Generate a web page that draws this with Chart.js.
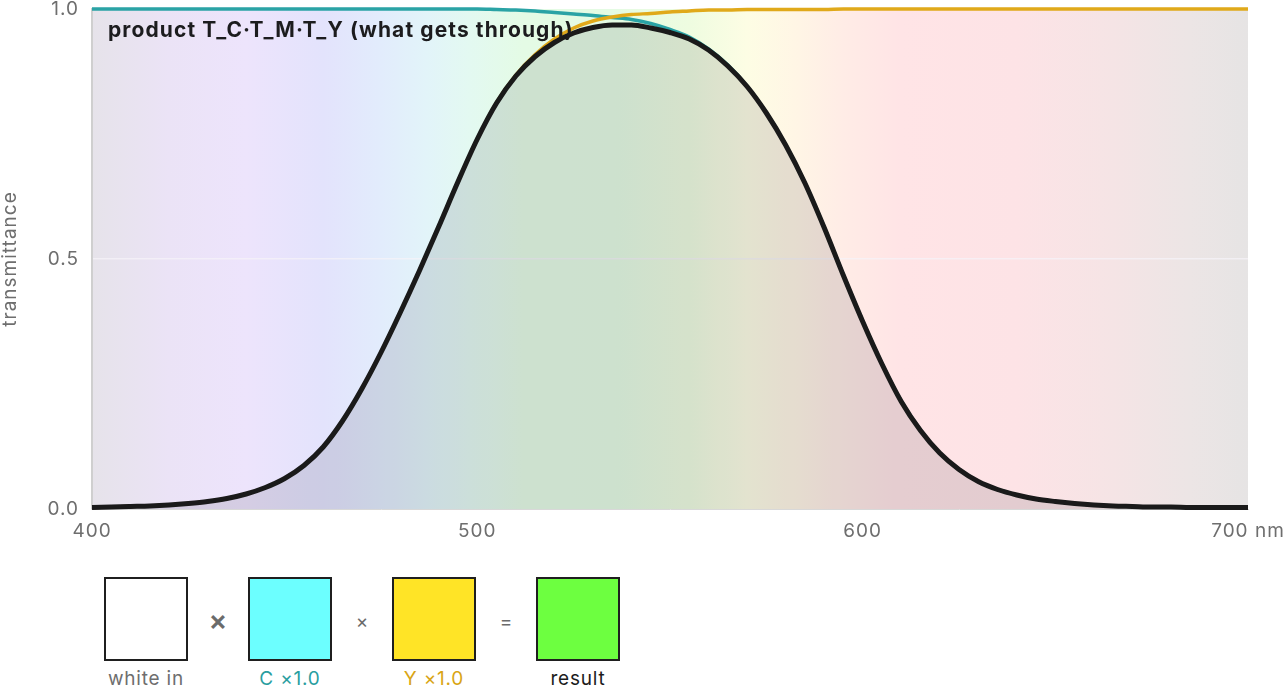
<!DOCTYPE html>
<html>
<head>
<meta charset="utf-8">
<title>Transmittance product</title>
<script src="https://cdn.jsdelivr.net/npm/chart.js@4/dist/chart.umd.min.js"></script>
<style>
    html, body {
        margin: 0;
        padding: 0;
        background: #ffffff;
        font-family: Inter, "Noto Sans", sans-serif;
    }
    .chart-wrap {
        position: absolute;
        left: 0;
        top: 0;
        width: 1283px;
        height: 548px;
    }
    .swatch-row {
        position: absolute;
        left: 0;
        top: 577px;
        width: 700px;
        height: 111px;
    }
    .swatch {
        position: absolute;
        top: 0;
        width: 80px;
        height: 80px;
        border: 2px solid #1f1f1f;
    }
    .swatch-label {
        position: absolute;
        top: 91px;
        width: 160px;
        margin-left: -80px;
        text-align: center;
        font-size: 19px;
        letter-spacing: 0.8px;
        line-height: 22px;
    }
    .op {
        position: absolute;
        width: 40px;
        margin-left: -20px;
        text-align: center;
        color: #6b6b6b;
    }
</style>
</head>
<body>
<div class="chart-wrap"><canvas id="transmit-chart"></canvas></div>
<div class="swatch-row" id="swatch-row"></div>
<script>
// wavelength grid (nm) and the three curves
var wavelengths = [
    400, 405, 410, 415, 420, 425, 430, 435, 440, 445,
    450, 455, 460, 465, 470, 475, 480, 485, 490, 495,
    500, 505, 510, 515, 520, 525, 530, 535, 540, 545,
    550, 555, 560, 565, 570, 575, 580, 585, 590, 595,
    600, 605, 610, 615, 620, 625, 630, 635, 640, 645,
    650, 655, 660, 665, 670, 675, 680, 685, 690, 695, 700
];

var cyanT = [
    1.0, 1.0, 1.0, 1.0, 1.0, 1.0, 1.0, 1.0, 1.0, 1.0,
    1.0, 1.0, 1.0, 1.0, 1.0, 1.0, 1.0, 1.0, 1.0, 1.0,
    1.0, 0.999, 0.998, 0.996, 0.993, 0.99, 0.987, 0.983, 0.979, 0.971,
    0.959, 0.944, 0.92, 0.888, 0.846, 0.793, 0.729, 0.653, 0.564, 0.468,
    0.376, 0.291, 0.216, 0.158, 0.112, 0.079, 0.055, 0.039, 0.028, 0.02,
    0.015, 0.011, 0.008, 0.006, 0.005, 0.004, 0.004, 0.003, 0.003, 0.003, 0.003
];

var yellowT = [
    0.003, 0.004, 0.005, 0.006, 0.008, 0.011, 0.015, 0.021, 0.03, 0.043,
    0.061, 0.087, 0.124, 0.176, 0.24, 0.313, 0.393, 0.477, 0.565, 0.655,
    0.74, 0.813, 0.868, 0.909, 0.94, 0.962, 0.976, 0.984, 0.989, 0.991,
    0.994, 0.996, 0.998, 0.998, 0.999, 0.999, 0.999, 0.999, 0.999, 1.0,
    1.0, 1.0, 1.0, 1.0, 1.0, 1.0, 1.0, 1.0, 1.0, 1.0,
    1.0, 1.0, 1.0, 1.0, 1.0, 1.0, 1.0, 1.0, 1.0, 1.0, 1.0
];

var productT = [
    0.003, 0.004, 0.005, 0.006, 0.008, 0.011, 0.015, 0.021, 0.03, 0.043,
    0.061, 0.087, 0.124, 0.176, 0.24, 0.313, 0.393, 0.477, 0.565, 0.655,
    0.74, 0.812, 0.866, 0.905, 0.933, 0.952, 0.963, 0.968, 0.968, 0.962,
    0.953, 0.94, 0.918, 0.886, 0.845, 0.792, 0.728, 0.652, 0.563, 0.467,
    0.375, 0.29, 0.215, 0.157, 0.112, 0.079, 0.055, 0.039, 0.028, 0.02,
    0.015, 0.011, 0.008, 0.006, 0.005, 0.004, 0.004, 0.003, 0.003, 0.003, 0.003
];

var xTicks = [400, 500, 600, 700];
var yTicks = [0, 0.5, 1];

// pale spectrum behind the plot
var backdropNm = [400, 420, 440, 460, 475, 487, 498, 512, 535, 555, 570, 582, 595, 610, 640, 665, 685, 700];
var backdropColors = [
    '#e6e3ea', '#ebe3f6', '#ede4fc', '#e3e3fc', '#e2ecfc', '#e2f4f9', '#e3f9f1', '#e4fbe5',
    '#e4fbe3', '#eefce0', '#fdfde4', '#fff6e5', '#ffece6', '#ffe4e6', '#fde3e6', '#f5e4e5',
    '#ece5e5', '#e6e4e4'
];

var swatches = [
    { label: 'white in', color: '#ffffff', text: '#6e6e6e' },
    { label: 'C \u00d71.0', color: '#6cffff', text: '#2a9ea0' },
    { label: 'Y \u00d71.0', color: '#ffe426', text: '#d9a514' },
    { label: 'result', color: '#6dff40', text: '#1c1c1c' }
];
var operators = ['\u00d7', '\u00d7', '='];

(function (window, document) {
    'use strict';

    var FONT = 'Inter, "Noto Sans", sans-serif';
    var SPACING = '1px';

    function points(values) {
        return wavelengths.map(function (nm, i) {
            return { x: nm, y: values[i] };
        });
    }

    // the reference text runs a little wider than Inter, so track it out
    var textTracking = {
        id: 'textTracking',
        beforeInit: function (chart) {
            chart.ctx.letterSpacing = SPACING;
        },
        beforeLayout: function (chart) {
            chart.ctx.letterSpacing = SPACING;
        },
        beforeDraw: function (chart) {
            chart.ctx.letterSpacing = SPACING;
        }
    };

    var spectrumBackdrop = {
        id: 'spectrumBackdrop',
        beforeDraw: function (chart) {
            var area = chart.chartArea;
            var ctx = chart.ctx;
            var xScale = chart.scales.x;
            var grad = ctx.createLinearGradient(area.left, 0, area.right, 0);

            backdropNm.forEach(function (nm, i) {
                var t = (xScale.getPixelForValue(nm) - area.left) / area.width;
                grad.addColorStop(Math.min(1, Math.max(0, t)), backdropColors[i]);
            });

            ctx.save();
            ctx.fillStyle = grad;
            ctx.fillRect(area.left, area.top, area.width, area.height);
            ctx.restore();
        }
    };

    var plotTitle = {
        id: 'plotTitle',
        afterDatasetsDraw: function (chart) {
            var area = chart.chartArea;
            var ctx = chart.ctx;
            ctx.save();
            ctx.letterSpacing = '1.1px';
            ctx.font = 'bold 21px ' + FONT;
            ctx.fillStyle = '#1c1c1e';
            ctx.textBaseline = 'alphabetic';
            ctx.textAlign = 'left';
            ctx.fillText('product T_C\u00b7T_M\u00b7T_Y (what gets through)', area.left + 16, area.top + 28);
            ctx.restore();
        }
    };

    function buildSwatches() {
        var row = document.getElementById('swatch-row');
        var step = 144;
        var first = 146;

        swatches.forEach(function (sw, i) {
            var cx = first + i * step;
            var box = document.createElement('div');
            box.className = 'swatch';
            box.style.left = (cx - 42) + 'px';
            box.style.background = sw.color;
            row.appendChild(box);

            var label = document.createElement('div');
            label.className = 'swatch-label';
            label.style.left = cx + 'px';
            label.style.color = sw.text;
            label.textContent = sw.label;
            row.appendChild(label);
        });

        operators.forEach(function (op, i) {
            var el = document.createElement('div');
            el.className = 'op';
            el.style.left = (first + 72 + i * step) + 'px';
            el.textContent = op;
            if (i === 0) {
                el.style.fontSize = '28px';
                el.style.fontWeight = '600';
                el.style.top = '26px';
            } else {
                el.style.fontSize = '19px';
                el.style.top = '33px';
            }
            row.appendChild(el);
        });
    }

    function noScalePadding(scale) {
        scale.paddingTop = 0;
        scale.paddingBottom = 0;
        scale.paddingLeft = 0;
        scale.paddingRight = 0;
    }

    function init() {
        buildSwatches();

        if (typeof Chart === 'undefined') {
            return;
        }

        var canvas = document.getElementById('transmit-chart');

        new Chart(canvas, {
            type: 'line',
            data: {
                datasets: [
                    {
                        label: 'product',
                        data: points(productT),
                        borderColor: '#1a1a1a',
                        borderWidth: 5,
                        backgroundColor: 'rgba(20, 20, 40, 0.11)',
                        fill: 'origin',
                        pointRadius: 0,
                        cubicInterpolationMode: 'monotone',
                        clip: false,
                        order: 0
                    },
                    {
                        label: 'T_Y',
                        data: points(yellowT),
                        borderColor: '#e0a91a',
                        borderWidth: 3.5,
                        fill: false,
                        pointRadius: 0,
                        cubicInterpolationMode: 'monotone',
                        clip: false,
                        order: 1
                    },
                    {
                        label: 'T_C',
                        data: points(cyanT),
                        borderColor: '#2aa3a5',
                        borderWidth: 3.5,
                        fill: false,
                        pointRadius: 0,
                        cubicInterpolationMode: 'monotone',
                        clip: false,
                        order: 2
                    }
                ]
            },
            options: {
                responsive: true,
                maintainAspectRatio: false,
                animation: false,
                layout: {
                    padding: { top: 9, right: 35, bottom: 0, left: 0 }
                },
                plugins: {
                    legend: { display: false },
                    tooltip: { enabled: false },
                    filler: { drawTime: 'beforeDatasetsDraw' }
                },
                scales: {
                    x: {
                        type: 'linear',
                        min: 400,
                        max: 700,
                        afterBuildTicks: function (scale) {
                            scale.ticks = xTicks.map(function (v) { return { value: v }; });
                        },
                        afterFit: function (scale) {
                            scale.height = 39;
                            noScalePadding(scale);
                        },
                        grid: { display: false, drawTicks: false },
                        border: { display: true, color: '#d8d8d8', width: 1 },
                        ticks: {
                            padding: 13,
                            color: '#6e6e6e',
                            maxRotation: 0,
                            autoSkip: false,
                            font: { family: FONT, size: 19, lineHeight: 1 },
                            callback: function (value) {
                                return value === 700 ? '700 nm' : String(value);
                            }
                        }
                    },
                    y: {
                        min: 0,
                        max: 1,
                        afterBuildTicks: function (scale) {
                            scale.ticks = yTicks.map(function (v) { return { value: v }; });
                        },
                        afterFit: function (scale) {
                            scale.width = 92;
                            noScalePadding(scale);
                        },
                        grid: {
                            drawTicks: false,
                            color: function (context) {
                                return context.tick && context.tick.value === 0.5 ? 'rgba(245, 243, 248, 0.75)' : 'rgba(0,0,0,0)';
                            },
                            lineWidth: 1.5
                        },
                        border: { display: true, color: '#cfcfcf', width: 2 },
                        title: {
                            display: true,
                            text: 'transmittance',
                            color: '#6e6e6e',
                            padding: { top: 0, bottom: 0 },
                            font: { family: FONT, size: 19, lineHeight: 1.1 }
                        },
                        ticks: {
                            padding: 13,
                            color: '#6e6e6e',
                            font: { family: FONT, size: 19, lineHeight: 1 },
                            callback: function (value) {
                                return Number(value).toFixed(1);
                            }
                        }
                    }
                }
            },
            plugins: [textTracking, spectrumBackdrop, plotTitle]
        });
    }

    if (document.readyState === 'loading') {
        document.addEventListener('DOMContentLoaded', init);
    } else {
        init();
    }
})(window, document);
</script>
</body>
</html>
